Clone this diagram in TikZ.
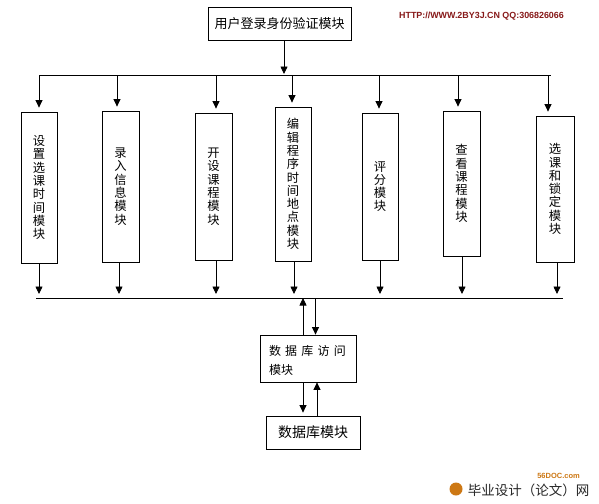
\documentclass[tikz,border=0pt]{standalone}
\usepackage{fontspec}
\setmainfont{Liberation Sans}
\newfontfamily\cjk{Noto Sans CJK SC}
\usetikzlibrary{arrows.meta}
\definecolor{hdrred}{RGB}{135,25,25}
\definecolor{logoorange}{RGB}{205,120,20}
\tikzset{
  box/.style={draw=black, line width=0.8pt, fill=white, inner sep=0pt},
  vbox/.style={box, align=center, font=\cjk\fontsize{12.3}{13.3}\selectfont},
  line/.style={draw=black, line width=0.8pt},
  arr/.style={line, -{Triangle[width=7pt,length=7.5pt]}},
}
\begin{document}
\begin{tikzpicture}[x=1pt,y=-1pt]
\useasboundingbox[fill=white] (0,0) rectangle (599,503);

% header texts
\node[font=\bfseries\fontsize{8.9}{9}\selectfont, text=hdrred, inner sep=0pt] (hdr) at (481.5,16) {HTTP://WWW.2BY3J.CN QQ:306826066};

% top module
\node[box, minimum width=143pt, minimum height=33pt, font=\cjk\fontsize{13}{15}\selectfont] (top) at (279.5,23.5) {用户登录身份验证模块};

% module boxes
\node[vbox, minimum width=36pt, minimum height=151pt] (b1) at (39,187.5) {设\\置\\选\\课\\时\\间\\模\\块};
\node[vbox, minimum width=37pt, minimum height=151pt] (b2) at (120.5,186.5) {录\\入\\信\\息\\模\\块};
\node[vbox, minimum width=37pt, minimum height=147pt] (b3) at (213.5,186.5) {开\\设\\课\\程\\模\\块};
\node[vbox, minimum width=36pt, minimum height=154pt] (b4) at (293,184) {编\\辑\\程\\序\\时\\间\\地\\点\\模\\块};
\node[vbox, minimum width=36pt, minimum height=147pt] (b5) at (380,186.5) {评\\分\\模\\块};
\node[vbox, minimum width=37pt, minimum height=145pt] (b6) at (461.5,183.5) {查\\看\\课\\程\\模\\块};
\node[vbox, minimum width=38pt, minimum height=146pt] (b7) at (555,189) {选\\课\\和\\锁\\定\\模\\块};

% database boxes
\node[box, minimum width=96pt, minimum height=47pt, align=left, text width=78pt, inner xsep=9pt,
      font=\cjk\fontsize{12}{19}\selectfont] (dba) at (308,358.5) {\rule{0pt}{13pt}{\spaceskip=4.2pt\relax 数 据 库 访 问}\\模块};
\node[box, minimum width=94pt, minimum height=33pt, font=\cjk\fontsize{14}{16}\selectfont] (db) at (313,432.5) {数据库模块};

% bus coordinates
\coordinate (tl) at (39,75.5);
\coordinate (tr) at (551,75.5);
\coordinate (ta) at (284,75.5);
\coordinate (t1) at (39,75.5);
\coordinate (t2) at (117,75.5);
\coordinate (t3) at (216,75.5);
\coordinate (t4) at (292,75.5);
\coordinate (t5) at (379,75.5);
\coordinate (t6) at (458,75.5);
\coordinate (t7) at (548,75.5);
\coordinate (bl) at (36,298);
\coordinate (br) at (563,298);
\coordinate (u1) at (39,298);
\coordinate (u2) at (119,298);
\coordinate (u3) at (216,298);
\coordinate (u4) at (294,298);
\coordinate (u5) at (380,298);
\coordinate (u6) at (462,298);
\coordinate (u7) at (557,298);
\coordinate (ua) at (303,298);
\coordinate (ub) at (315.5,298);
\coordinate (dc) at (317,400);

% buses
\draw[line] (tl) -- (tr);
\draw[line] (bl) -- (br);

% top arrow
\draw[arr, shorten >=1.5pt] (top.south -| ta) -- (ta);

% arrows into modules
\foreach \i in {1,...,7}{
  \draw[arr, shorten >=4pt] (t\i) -- (t\i |- b\i.north);
  \draw[arr, shorten >=4pt] (b\i.south -| u\i) -- (u\i);
}

% database access arrows
\draw[arr] (dba.north -| ua) -- (ua);
\draw[arr] (ub) -- (ub |- dba.north);
\draw[arr, shorten >=3pt] (dba.south -| ua) -- (db.north -| ua);
\draw[arr] (db.north -| dc) -- (dba.south -| dc);

% logo
\fill[logoorange] (456,489) circle (6.5pt);
\node[font=\bfseries\fontsize{7.5}{8}\selectfont, text=logoorange, inner sep=0pt] (logo1) at (558.5,476) {56DOC.com};
\node[font=\cjk\fontsize{13.5}{15}\selectfont, text=black!85, inner sep=0pt] (logo2) at (528.5,490) {毕业设计（论文）网};
\end{tikzpicture}
\end{document}
